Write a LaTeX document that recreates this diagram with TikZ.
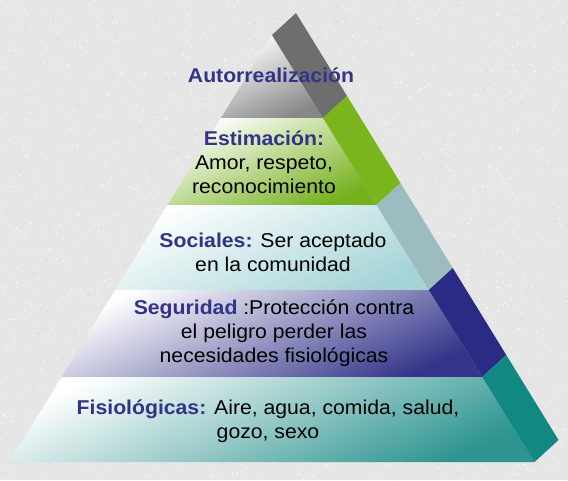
\documentclass[tikz,border=0pt]{standalone}
\usepackage{fontspec}
\setmainfont{Liberation Sans}[FakeStretch=1.06]
\usetikzlibrary{positioning}
\usetikzlibrary{calc}

\definecolor{headblue}{RGB}{51,51,136}
\definecolor{bggrey}{RGB}{230,230,230}
\definecolor{greyfront}{RGB}{135,135,135}
\definecolor{greyband}{RGB}{110,110,110}
\definecolor{greenfront}{RGB}{118,176,28}
\definecolor{greenband}{RGB}{122,181,29}
\definecolor{cyanfront}{RGB}{165,212,215}
\definecolor{cyanband}{RGB}{157,188,192}
\definecolor{bluefront}{RGB}{52,52,138}
\definecolor{blueband}{RGB}{43,43,134}
\definecolor{tealfront}{RGB}{45,148,144}
\definecolor{tealband}{RGB}{18,136,131}

\begin{document}
\begin{tikzpicture}[x=1pt, y=-1pt,
    level/.style={top color=white, middle color=#1!40, bottom color=#1, shading angle=25},
    band/.style={fill=#1},
    txt/.style={inner sep=0pt, align=center, font=\fontsize{20}{24}\selectfont},
    head/.style={text=headblue, font=\fontsize{20}{24}\selectfont\bfseries}]
  \useasboundingbox (0,0) rectangle (568,480);
  \fill[bggrey] (0,0) rectangle (568,480);
  \pgfmathsetseed{11}
  \foreach \i in {1,...,1800}
    \fill[white, opacity=0.7] ({rnd*568},{rnd*480}) circle[radius=0.9pt];
  \foreach \i in {1,...,900}
    \fill[gray!45, opacity=0.5] ({rnd*568},{rnd*480}) circle[radius=0.7pt];

  \foreach \ya/\yb/\fc/\bc in {35/118/greyfront/greyband,
                               118/205/greenfront/greenband,
                               205/290/cyanfront/cyanband,
                               290/377/bluefront/blueband,
                               377/462/tealfront/tealband}
  {
    \shade[level=\fc]
      ({272-0.6148*(\ya-35)},\ya) -- ({272+0.6148*(\ya-35)},\ya)
      -- ({272+0.6148*(\yb-35)},\yb) -- ({272-0.6148*(\yb-35)},\yb) -- cycle;
    \fill[band=\bc]
      ({272+0.6148*(\ya-35)},\ya) -- ++(24,-22)
      -- ({296+0.6148*(\yb-35)},{\yb-22}) -- ({272+0.6148*(\yb-35)},\yb) -- cycle;
  }

  \node[txt, head] (auto) at (271,75) {Autorrealización};
  \node[txt] (estim) at (264,162)
    {\textcolor{headblue}{\bfseries Estimación:}\\Amor, respeto,\\reconocimiento};
  \node[txt] (social) at (273,252)
    {\textcolor{headblue}{\bfseries Sociales:} Ser aceptado\\en la comunidad};
  \node[txt] (segur) at (274,333)
    {\textcolor{headblue}{\bfseries Seguridad} :Protección contra\\el peligro perder las\\necesidades fisiológicas};
  \node[txt] (fisio) at (268,421)
    {\textcolor{headblue}{\bfseries Fisiológicas:} Aire, agua, comida, salud,\\gozo, sexo};
\end{tikzpicture}
\end{document}
